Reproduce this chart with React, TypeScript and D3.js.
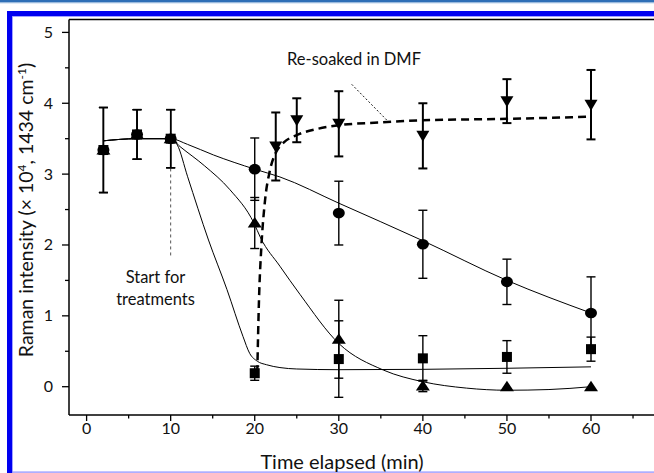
import React from "react";
import * as d3 from "d3";

// ---- data ----
const times = [2, 6, 10, 20, 30, 40, 50, 60];
const squareVals = [3.34, 3.56, 3.5, 0.19, 0.39, 0.4, 0.42, 0.53];
const squareErr = [0.6, 0.35, 0.41, 0.1, 0.54, 0.32, 0.23, 0.17];
const circleVals = [3.34, 3.56, 3.5, 3.07, 2.45, 2.01, 1.48, 1.04];
const circleErr = [0.6, 0.35, 0.41, 0.44, 0.45, 0.48, 0.32, 0.51];
const triangleVals = [3.34, 3.56, 3.5, 2.31, 0.67, 0.01, 0.0, 0.0];
const triangleErr = [0.6, 0.35, 0.41, 0.36, 0.55, 0.08, 0, 0];

const dmfTimes = [22.5, 25, 30, 40, 50, 60];
const dmfVals = [3.39, 3.76, 3.71, 3.54, 4.03, 3.98];
const dmfErr = [0.48, 0.31, 0.46, 0.46, 0.31, 0.49];

// fitted curves
const squareFit: [number, number][] = [
  [2, 3.47], [6, 3.5], [10, 3.5], [10.8, 3.41], [12, 2.97], [14.5, 2.07], [16.7, 1.37],
  [18.6, 0.71], [19.4, 0.47], [20.3, 0.36], [21.4, 0.31], [23, 0.27], [25, 0.25],
  [30, 0.24], [40, 0.245], [50, 0.26], [60, 0.28],
];
const circleFit: [number, number][] = [
  [2, 3.47], [6, 3.5], [10, 3.5], [12, 3.42], [15.1, 3.27], [20, 3.07], [23, 2.96],
  [30, 2.59], [40, 2.06], [50, 1.5], [60, 1.04],
];
const triangleFit: [number, number][] = [
  [2, 3.47], [6, 3.5], [10, 3.5], [11.1, 3.39], [14, 3.12], [17.05, 2.78], [19.9, 2.31],
  [20.7, 2.1], [23, 1.7], [25.4, 1.3], [30, 0.61], [35.3, 0.235], [40, 0.07],
  [45.2, -0.02], [50, -0.05], [55, -0.04], [60, 0.0],
];
const dmfFit: [number, number][] = [
  [20.3, 0.19], [20.5, 1.2], [20.8, 2.0], [21.2, 2.6], [21.8, 3.05], [22.5, 3.3],
  [23.5, 3.45], [25, 3.55], [27.5, 3.64], [30, 3.69], [35, 3.73], [40, 3.76],
  [50, 3.78], [60, 3.81],
];

const xMajor = [0, 10, 20, 30, 40, 50, 60];
const xMinor = [5, 15, 25, 35, 45, 55, 65];
const yMajor = [0, 1, 2, 3, 4, 5];
const yMinor = [0.5, 1.5, 2.5, 3.5, 4.5];

const W = 654;
const H = 473;
const FONT = "Lato, 'Open Sans', sans-serif";

export default function App() {
  const left = 69;
  const top = 19.5;
  const bottom = 415;
  const x = d3.scaleLinear().domain([0, 60]).range([86.6, 591]);
  const y = d3.scaleLinear().domain([0, 5]).range([386.7, 32.4]);

  const line = d3
    .line<[number, number]>()
    .x((d) => x(d[0]))
    .y((d) => y(d[1]))
    .curve(d3.curveMonotoneX);

  const errBar = (t: number, v: number, e: number, key: string, sw = 1.4) => {
    if (!e) return null;
    const cx = x(t);
    const cap = 4.5;
    return (
      <g key={key} stroke="#000" strokeWidth={sw}>
        <line x1={cx} x2={cx} y1={y(v + e)} y2={y(v - e)} />
        <line x1={cx - cap} x2={cx + cap} y1={y(v + e)} y2={y(v + e)} />
        <line x1={cx - cap} x2={cx + cap} y1={y(v - e)} y2={y(v - e)} />
      </g>
    );
  };

  const triUp = (cx: number, cy: number) =>
    `M${cx - 7},${cy + 4.5}L${cx + 7},${cy + 4.5}L${cx},${cy - 6}Z`;
  const triDown = (cx: number, cy: number) =>
    `M${cx - 6.5},${cy - 5}L${cx + 6.5},${cy - 5}L${cx},${cy + 6}Z`;

  return (
    <svg
      width={W}
      height={H}
      style={{ position: "absolute", left: 0, top: 0, display: "block", background: "#fff" }}
      fontFamily={FONT}
    >
      {/* page decoration */}
      <rect x={0} y={0} width={W} height={2.5} fill="#2f6fb6" />
      <rect x={0} y={2.5} width={W} height={0.8} fill="#9dbde0" />
      <rect x={7} y={11} width={W - 7} height={5} fill="#0000f0" />
      <rect x={12} y={16} width={W - 12} height={0.8} fill="#8c8cff" />
      <rect x={7} y={11} width={5} height={H - 11} fill="#0000f0" />
      <rect x={12} y={16} width={0.8} height={H - 16} fill="#8c8cff" />
      <rect x={12} y={471.5} width={W - 12} height={1.2} fill="#8c8cff" />

      {/* frame */}
      <g stroke="#000" strokeWidth={1.5} fill="none">
        <line x1={left} x2={W} y1={top} y2={top} />
        <line x1={left} x2={left} y1={top} y2={bottom} />
        <line x1={left} x2={W} y1={bottom} y2={bottom} />
      </g>

      {/* ticks */}
      <g stroke="#000" strokeWidth={1.3}>
        {xMajor.map((t) => (
          <line key={"xM" + t} x1={x(t)} x2={x(t)} y1={bottom} y2={bottom + 6} />
        ))}
        {xMinor.map((t) => (
          <line key={"xm" + t} x1={x(t)} x2={x(t)} y1={bottom} y2={bottom + 3.5} />
        ))}
        {yMajor.map((v) => (
          <line key={"yM" + v} x1={left - 7} x2={left} y1={y(v)} y2={y(v)} />
        ))}
        {yMinor.map((v) => (
          <line key={"ym" + v} x1={left - 4} x2={left} y1={y(v)} y2={y(v)} />
        ))}
      </g>
      <g fontSize={16} fill="#111">
        {xMajor.map((t) => (
          <text key={"xl" + t} x={x(t)} y={434} textAnchor="middle">
            {t}
          </text>
        ))}
        {yMajor.map((v) => (
          <text key={"yl" + v} x={53} y={y(v) + 5.5} textAnchor="end">
            {v}
          </text>
        ))}
      </g>

      {/* axis titles */}
      <text x={342} y={469} fontSize={20} textAnchor="middle" fill="#111">
        Time elapsed (min)
      </text>
      <text
        transform={`translate(33,210) rotate(-90)`}
        fontSize={19.5}
        textAnchor="middle"
        fill="#111"
      >
        Raman intensity (× 10
        <tspan fontSize={12} dy={-7}>4</tspan>
        <tspan dy={7}>, 1434 cm</tspan>
        <tspan fontSize={12} dy={-7}>-1</tspan>
        <tspan dy={7}>)</tspan>
      </text>

      {/* fitted curves */}
      <g fill="none" stroke="#000" strokeWidth={1}>
        <path d={line(squareFit) || ""} />
        <path d={line(circleFit) || ""} />
        <path d={line(triangleFit) || ""} />
      </g>
      <path
        d={line(dmfFit) || ""}
        fill="none"
        stroke="#000"
        strokeWidth={2.5}
        strokeDasharray="8,5"
      />

      {/* annotations */}
      <line
        x1={x(10)}
        x2={x(10)}
        y1={y(3.08)}
        y2={y(1.82)}
        stroke="#555"
        strokeWidth={1}
        strokeDasharray="3,3"
      />
      <line x1={351.7} y1={84.3} x2={386.7} y2={120} stroke="#000" strokeWidth={0.9} strokeDasharray="2,2" />
      <text x={287} y={65} fontSize={16.5} fill="#111">
        Re-soaked in DMF
      </text>
      <text x={155.5} y={283} fontSize={16.5} textAnchor="middle" fill="#111">
        Start for
      </text>
      <text x={155.5} y={305} fontSize={16.5} textAnchor="middle" fill="#111">
        treatments
      </text>

      {/* error bars */}
      {times.map((t, i) => errBar(t, squareVals[i], squareErr[i], "es" + i))}
      {times.map((t, i) => errBar(t, circleVals[i], circleErr[i], "ec" + i))}
      {times.map((t, i) => errBar(t, triangleVals[i], triangleErr[i], "et" + i))}
      {dmfTimes.map((t, i) => errBar(t, dmfVals[i], dmfErr[i], "ed" + i, 2))}

      {/* markers */}
      <g fill="#000">
        {times.map((t, i) => (
          <rect key={"ms" + i} x={x(t) - 5} y={y(squareVals[i]) - 5} width={10} height={10} />
        ))}
        {times.map((t, i) => (
          <ellipse key={"mc" + i} cx={x(t)} cy={y(circleVals[i])} rx={6} ry={5.3} />
        ))}
        {times.map((t, i) => (
          <path key={"mt" + i} d={triUp(x(t), y(triangleVals[i]))} />
        ))}
        {dmfTimes.map((t, i) => (
          <path key={"md" + i} d={triDown(x(t), y(dmfVals[i]))} />
        ))}
      </g>
    </svg>
  );
}
